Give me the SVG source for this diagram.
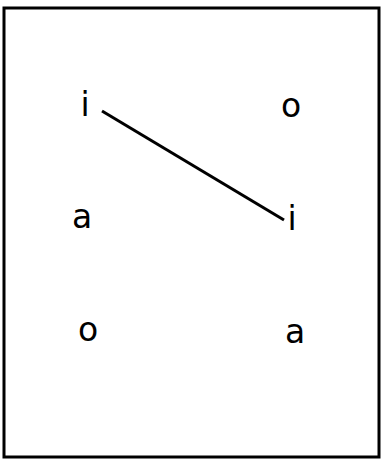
<svg xmlns="http://www.w3.org/2000/svg" width="381" height="466" viewBox="0 0 381 466">
<style>
text{font-family:"DejaVu Sans","Liberation Sans",sans-serif;font-size:33px;fill:#000;text-anchor:middle}
.frame{fill:none;stroke:#000;stroke-width:3}
.edge{stroke:#000;stroke-width:3;fill:none}
</style>
<rect x="0" y="0" width="381" height="466" fill="#fff"/>
<rect class="frame" x="4" y="8" width="375" height="449"/>
<g id="connectors">
<line class="edge" x1="102" y1="111" x2="284" y2="220"/>
</g>
<g id="n-i1"><text x="85" y="116">i</text></g>
<g id="n-o1"><text x="291" y="117">o</text></g>
<g id="n-a1"><text x="82" y="228">a</text></g>
<g id="n-i2"><text x="292" y="230">i</text></g>
<g id="n-o2"><text x="88" y="341">o</text></g>
<g id="n-a2"><text x="295" y="343">a</text></g>
</svg>
